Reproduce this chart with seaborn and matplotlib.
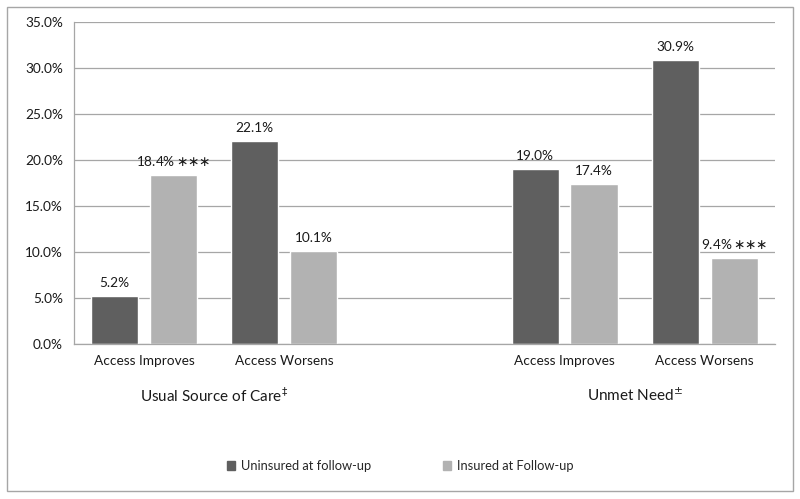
import matplotlib
matplotlib.use("Agg")
import matplotlib.pyplot as plt
import seaborn as sns
import pandas as pd
from matplotlib.patches import Rectangle
from matplotlib.ticker import PercentFormatter

# data
slots = ["usc_improves", "usc_worsens", "gap", "unmet_improves", "unmet_worsens"]
slot_labels = ["Access Improves", "Access Worsens", "", "Access Improves", "Access Worsens"]
series = ["Uninsured at follow-up", "Insured at Follow-up"]
uninsured = [5.2, 22.1, 19.0, 30.9]
insured = [18.4, 10.1, 17.4, 9.4]
insured_flags = ["$\\,{\\ast}{\\ast}{\\ast}$", "", "", "$\\,{\\ast}{\\ast}{\\ast}$"]
group_titles = ["Usual Source of Care$^{\\ddagger}$", "Unmet Need$^{\\pm}$"]

data_slots = [s for s in slots if s != "gap"]
df = pd.DataFrame({
    "slot": data_slots * 2,
    "status": [series[0]] * 4 + [series[1]] * 4,
    "pct": uninsured + insured,
})

sns.set_style("white")
plt.rcParams["font.family"] = ["Lato", "DejaVu Sans"]
plt.rcParams["mathtext.fontset"] = "dejavusans"
fs = 9.8

fig = plt.figure(figsize=(8, 4.99), dpi=100)
ax = fig.add_axes([0.0925, 0.3106, 0.876, 0.6453])

sns.barplot(data=df, x="slot", y="pct", hue="status", order=slots,
            hue_order=series, palette=["#5f5f5f", "#b2b2b2"],
            width=0.84, gap=0.2, saturation=1, errorbar=None, ax=ax)

# value labels
for cont, flags in zip(ax.containers, [[""] * 4, insured_flags]):
    labels = [f"{v:.1f}%" + f for v, f in zip(cont.datavalues, flags)]
    ax.bar_label(cont, labels=labels, padding=5, fontsize=fs, color="#1a1a1a")

ax.set_ylim(0, 35)
ax.set_yticks(range(0, 36, 5))
ax.yaxis.set_major_formatter(PercentFormatter(decimals=1))
ax.set_xlim(-0.5, 4.5)
ax.set_xticks(range(len(slots)))
ax.set_xticklabels(slot_labels)
ax.set_xlabel("")
ax.set_ylabel("")
ax.tick_params(axis="both", length=0, labelsize=fs, colors="#1a1a1a")
ax.tick_params(axis="y", pad=8)
ax.tick_params(axis="x", pad=8)
ax.grid(axis="y", color="#a6a6a6", linewidth=0.9)
ax.set_axisbelow(True)
for side in ["top", "right"]:
    ax.spines[side].set_visible(False)
for side in ["left", "bottom"]:
    ax.spines[side].set_color("#a6a6a6")
    ax.spines[side].set_linewidth(0.9)

# group titles under the x labels
for xpos, title in zip([0.5, 3.5], group_titles):
    ax.text(xpos, -0.16, title, transform=ax.get_xaxis_transform(),
            ha="center", va="center", fontsize=11, color="#1a1a1a")

# legend
ax.legend_.remove()
handles = [Rectangle((0, 0), 1, 1, color=c) for c in ["#5f5f5f", "#b2b2b2"]]
fig.legend(handles, series, loc="center", bbox_to_anchor=(0.5, 0.066),
           ncol=2, frameon=False, fontsize=9.3, handlelength=0.65,
           handleheight=0.65, handletextpad=0.4, columnspacing=5.6)

# outer chart border
fig.patches.append(Rectangle((0.009, 0.016), 0.982, 0.97, transform=fig.transFigure,
                             fill=False, edgecolor="#a6a6a6", linewidth=1))

fig.savefig("out.png", dpi=100)
